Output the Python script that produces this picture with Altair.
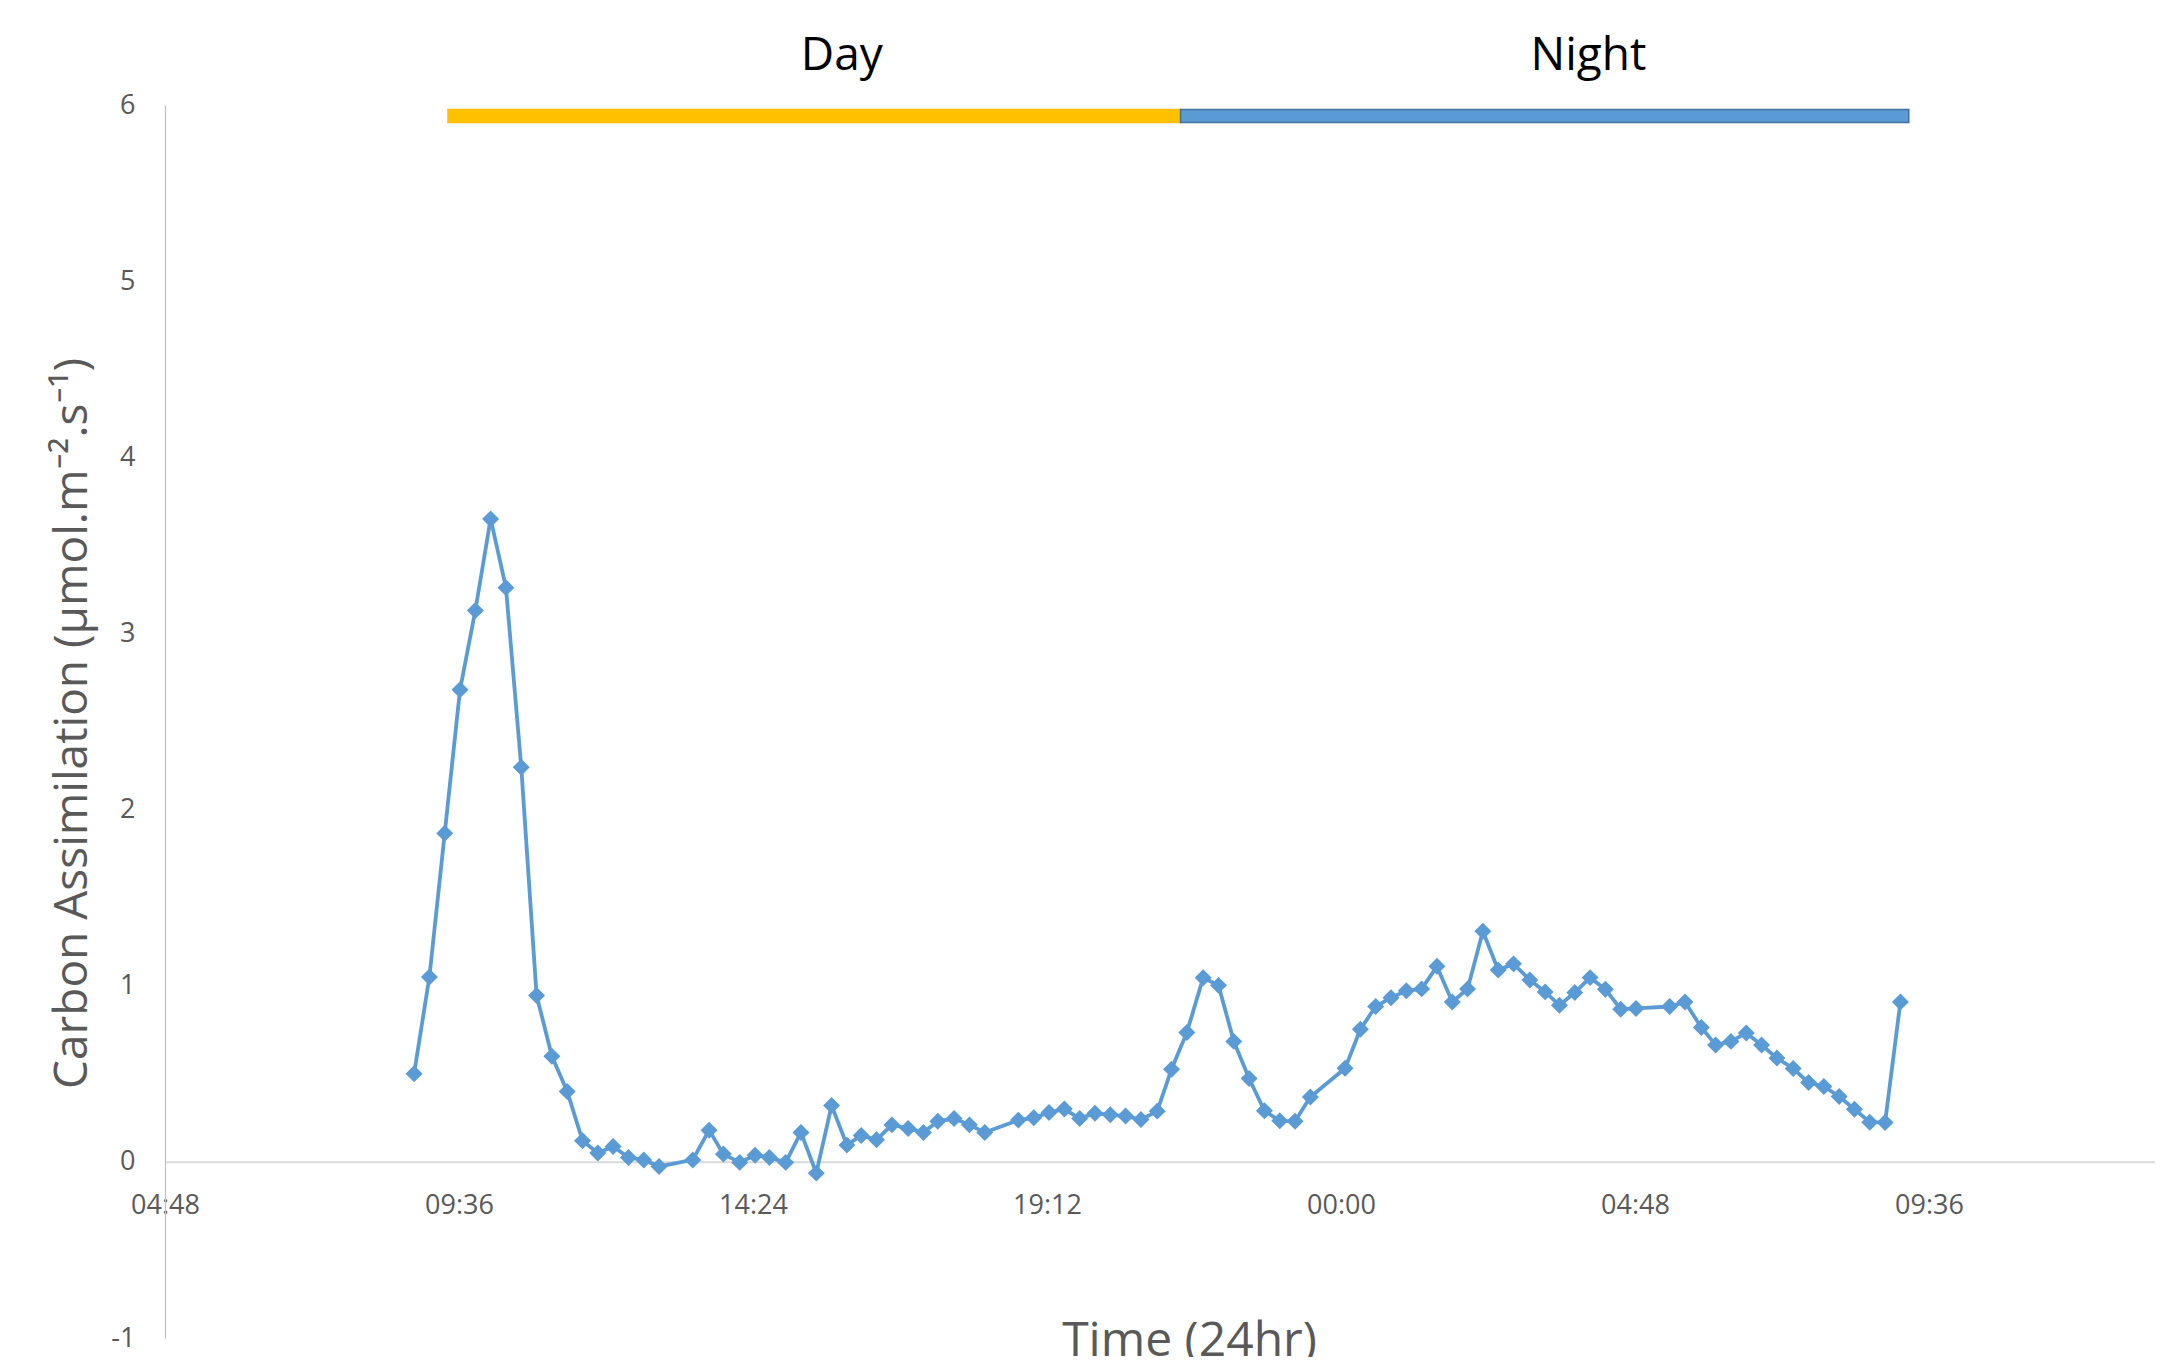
import altair as alt
import pandas as pd

# ---------------- data ----------------
TIMES_DAY1 = ["08:52", "09:07", "09:22", "09:37", "09:52", "10:07", "10:22", "10:37", "10:52", "11:07",
              "11:22", "11:37", "11:52", "12:07", "12:22", "12:37", "12:52",
              "13:25", "13:41", "13:55", "14:11", "14:26", "14:40", "14:56", "15:11", "15:26", "15:41", "15:56",
              "16:10", "16:25", "16:40", "16:56", "17:11", "17:25", "17:41", "17:56", "18:11",
              "18:44", "18:59", "19:14", "19:29", "19:44", "19:59", "20:14", "20:29", "20:44", "21:00",
              "21:14", "21:29", "21:45", "22:00", "22:15", "22:30", "22:45", "23:00", "23:15", "23:30"]
VALUES_DAY1 = [0.50, 1.05, 1.865, 2.68, 3.13, 3.65, 3.26, 2.24, 0.945, 0.60,
               0.40, 0.12, 0.05, 0.087, 0.025, 0.011, -0.026,
               0.011, 0.18, 0.044, -0.003, 0.038, 0.025, -0.003, 0.167, -0.064, 0.32, 0.095,
               0.15, 0.125, 0.21, 0.19, 0.167, 0.23, 0.246, 0.21, 0.167,
               0.237, 0.25, 0.28, 0.30, 0.246, 0.276, 0.267, 0.26, 0.24, 0.288,
               0.526, 0.735, 1.045, 1.002, 0.684, 0.473, 0.29, 0.233, 0.231, 0.368]
TIMES_DAY2 = ["00:04", "00:19", "00:34", "00:49", "01:04", "01:19", "01:34", "01:49", "02:04", "02:19",
              "02:34", "02:49", "03:05", "03:20", "03:34", "03:49", "04:04", "04:19", "04:34", "04:49",
              "05:22", "05:37", "05:53", "06:07", "06:22", "06:37", "06:52", "07:07", "07:23", "07:38",
              "07:53", "08:08", "08:23", "08:38", "08:53", "09:08"]
VALUES_DAY2 = [0.531, 0.753, 0.882, 0.932, 0.971, 0.982, 1.11, 0.908, 0.982, 1.309,
               1.089, 1.124, 1.033, 0.965, 0.889, 0.961, 1.046, 0.98, 0.867, 0.871,
               0.882, 0.908, 0.763, 0.664, 0.684, 0.732, 0.664, 0.589, 0.53, 0.45,
               0.428, 0.371, 0.299, 0.225, 0.224, 0.908]

PERIODS = ["Day", "Night"]
PERIOD_START = [9.42, 21.38]          # hours since midnight of day 1
PERIOD_END = [21.38, 33.27]
PERIOD_LABEL_X = [15.85, 28.04]
PERIOD_COLORS = ["#FFC000", "#5B9BD5"]
PERIOD_STROKES = ["#FFC000", "#41719C"]
BAR_LOW, BAR_HIGH = 5.90, 5.975
LABEL_LEVEL = 6.2

TICK_HOURS = [4.8, 9.6, 14.4, 19.2, 24, 28.8, 33.6]
TICK_LABELS = ["04:48", "09:36", "14:24", "19:12", "00:00", "04:48", "09:36"]
Y_TICKS = [-1, 0, 1, 2, 3, 4, 5, 6]


def to_hours(t, day):
    h, m = t.split(":")
    return day * 24 + int(h) + int(m) / 60.0


df = pd.DataFrame({
    "hours": [to_hours(t, 0) for t in TIMES_DAY1] + [to_hours(t, 1) for t in TIMES_DAY2],
    "value": VALUES_DAY1 + VALUES_DAY2,
})
periods = pd.DataFrame({
    "period": PERIODS, "start": PERIOD_START, "end": PERIOD_END,
    "labelx": PERIOD_LABEL_X, "low": [BAR_LOW] * 2, "high": [BAR_HIGH] * 2,
    "labely": [LABEL_LEVEL] * 2,
})

FONT = "Open Sans"
GREY = "#595959"
SERIES = "#5B9BD5"

label_expr = "[" + ",".join("'%s'" % s for s in TICK_LABELS) + "][indexof([" + \
    ",".join("%g" % v for v in TICK_HOURS) + "], datum.value)]"

xscale = alt.Scale(domain=[4.8, 37.29], nice=False, zero=False)
yscale = alt.Scale(domain=[-1, 6], nice=False, zero=False)

x_axis = alt.Axis(values=TICK_HOURS, labelExpr=label_expr, grid=False, ticks=False, tickSize=0,
                  offset=-176.14, domainColor="#D9D9D9", domainWidth=2,
                  labelFont=FONT, labelFontSize=27, labelColor=GREY, labelPadding=44,
                  labelBaseline="middle", labelAlign="center", labelOverlap=False, labelFlush=False,
                  title="Time (24hr)", titleFont=FONT, titleFontSize=48, titleFontWeight="normal",
                  titleColor=GREY, titleX=1024, titleY=194, titleAlign="center",
                  titleBaseline="alphabetic")
y_axis = alt.Axis(values=Y_TICKS, labelExpr="'' + datum.value", grid=False, ticks=False, tickSize=0,
                  domainColor="#BFBFBF",
                  domainWidth=1.2, labelFont=FONT, labelFontSize=27, labelColor=GREY,
                  labelPadding=30, labelBaseline="middle",
                  title="Carbon Assimilation (µmol.m⁻².s⁻¹)", titleFont=FONT, titleFontSize=46,
                  titleFontWeight="normal", titleColor=GREY, titleAngle=270, titleX=-93, titleY=618,
                  titleAlign="center", titleBaseline="middle")

line = alt.Chart(df).mark_line(color=SERIES, strokeWidth=3.8).encode(
    x=alt.X("hours:Q", scale=xscale, axis=x_axis),
    y=alt.Y("value:Q", scale=yscale, axis=y_axis),
)
points = alt.Chart(df).mark_point(shape="diamond", filled=True, size=200, fill=SERIES, stroke=SERIES,
                                  strokeWidth=2, opacity=1, fillOpacity=1, strokeOpacity=1).encode(
    x=alt.X("hours:Q", scale=xscale, axis=x_axis),
    y=alt.Y("value:Q", scale=yscale, axis=y_axis),
)
bars = alt.Chart(periods).mark_rect(strokeWidth=1.5).encode(
    x=alt.X("start:Q", scale=xscale, axis=x_axis),
    x2="end:Q",
    y=alt.Y("low:Q", scale=yscale, axis=y_axis),
    y2="high:Q",
    fill=alt.Color("period:N", scale=alt.Scale(domain=PERIODS, range=PERIOD_COLORS), legend=None),
    stroke=alt.Color("period:N", scale=alt.Scale(domain=PERIODS, range=PERIOD_STROKES), legend=None),
)
labels = alt.Chart(periods).mark_text(font=FONT, fontSize=46, color="#000000", baseline="alphabetic",
                                      align="center").encode(
    x=alt.X("labelx:Q", scale=xscale, axis=x_axis),
    y=alt.Y("labely:Q", scale=yscale, axis=y_axis),
    text="period:N",
)

chart = alt.layer(line, points, bars, labels).resolve_scale(fill="independent", stroke="independent").properties(
    width=1990, height=1233,
    padding={"left": 157, "top": 97, "right": 0, "bottom": 19},
    autosize=alt.AutoSizeParams(type="none"),
    background="white",
).configure_view(stroke=None)

chart.save("out.html", embed_options={"renderer": "svg", "actions": False})
